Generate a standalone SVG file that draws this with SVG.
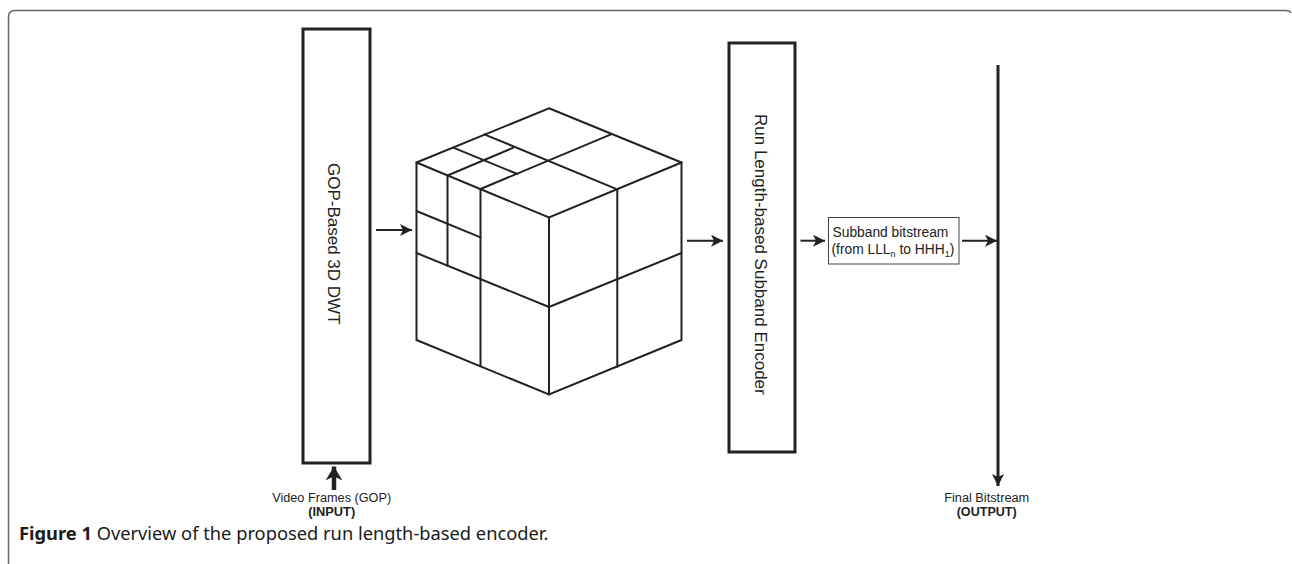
<svg xmlns="http://www.w3.org/2000/svg" width="1292" height="564" viewBox="0 0 1292 564">
<style>
.box{fill:#fff;stroke:#222;stroke-width:3}
.cube line,.cube path{stroke:#222;stroke-width:2;fill:none;stroke-linecap:round}
.lbl{font-family:"Liberation Sans",Arial,sans-serif;fill:#222}
.conn{stroke:#222;fill:none}
</style>
<defs>
<marker id="ah" markerUnits="userSpaceOnUse" markerWidth="12" markerHeight="12" refX="10" refY="5" orient="auto" viewBox="0 0 10 10">
<path d="M0,0 L10,5 L0,10 L2.5,5 z" fill="#222"/>
</marker>
<marker id="ahBig" markerUnits="userSpaceOnUse" markerWidth="12" markerHeight="12" refX="10" refY="5" orient="auto" viewBox="0 0 10 10">
<path d="M0,0 L10,5 L0,10 L2.5,5 z" fill="#222"/>
</marker>
<marker id="ahIn" markerUnits="userSpaceOnUse" markerWidth="14" markerHeight="17" refX="10" refY="6" orient="auto" viewBox="0 0 10 12">
<path d="M0,0 L10,6 L0,12 L3,6 z" fill="#222"/>
</marker>
</defs>
<rect width="1292" height="564" fill="#fff"/>
<path d="M8.5 564 V17 Q8.5 10.5 15 10.5 H1286 Q1290 10.5 1291 13" fill="none" stroke="#666" stroke-width="1.5"/>

<g id="gop-dwt">
<rect class="box" x="303" y="29" width="67" height="434"/>
<text class="lbl" font-size="17" transform="translate(328,163) rotate(90)">GOP-Based 3D DWT</text>
</g>

<g id="cube" class="cube">
<path d="M549 108.3 L681.5 162.5 L681.5 340 L549 394.5 L416.5 340 L416.5 162.5 Z"/>
<path d="M416.5 162.5 L549 217.5 L681.5 162.5 M549 217.5 V394.5"/>
<line x1="484.3" y1="134.3" x2="617.3" y2="189.3"/>
<line x1="611" y1="134.3" x2="480.5" y2="189"/>
<line x1="453.3" y1="147.7" x2="517.3" y2="174"/>
<line x1="447.5" y1="175.5" x2="513" y2="147.8"/>
<line x1="416.5" y1="253" x2="549" y2="307"/>
<line x1="549" y1="307" x2="681.5" y2="253"/>
<line x1="480.5" y1="189" x2="480.5" y2="366"/>
<line x1="447.5" y1="175.5" x2="447.5" y2="265.7"/>
<line x1="416.5" y1="211" x2="480.5" y2="237.3"/>
<line x1="617.3" y1="189.3" x2="617.3" y2="366.7"/>
</g>

<g id="rl-encoder">
<rect class="box" x="729" y="43" width="66" height="409"/>
<text class="lbl" font-size="17" transform="translate(755,114) rotate(90)">Run Length-based Subband Encoder</text>
</g>

<g id="subband">
<rect x="828.5" y="217.5" width="130.5" height="46.5" fill="#fff" stroke="#444" stroke-width="1"/>
<text class="lbl" font-size="13.8" x="832.5" y="236.5">Subband bitstream</text>
<text class="lbl" font-size="13.8" x="831.5" y="254">(from LLL<tspan font-size="9" dy="3">n</tspan><tspan dy="-3"> to HHH</tspan><tspan font-size="9" dy="3">1</tspan><tspan dy="-3">)</tspan></text>
</g>

<g id="input-label">
<text class="lbl" font-size="12" x="331.7" y="501.7" text-anchor="middle" textLength="119" lengthAdjust="spacingAndGlyphs">Video Frames (GOP)</text>
<text class="lbl" font-size="12" font-weight="bold" x="331.7" y="516" text-anchor="middle" textLength="47" lengthAdjust="spacingAndGlyphs">(INPUT)</text>
</g>

<g id="output-label">
<text class="lbl" font-size="12" x="986.7" y="501.7" text-anchor="middle" textLength="85" lengthAdjust="spacingAndGlyphs">Final Bitstream</text>
<text class="lbl" font-size="12" font-weight="bold" x="986.7" y="516" text-anchor="middle" textLength="60" lengthAdjust="spacingAndGlyphs">(OUTPUT)</text>
</g>

<g id="connectors">
<line class="conn" stroke-width="2" x1="376" y1="230" x2="412" y2="230" marker-end="url(#ah)"/>
<line class="conn" stroke-width="2" x1="687" y1="240.7" x2="723" y2="240.7" marker-end="url(#ah)"/>
<line class="conn" stroke-width="2" x1="800.5" y1="240.7" x2="825" y2="240.7" marker-end="url(#ah)"/>
<line class="conn" stroke-width="2" x1="962" y1="240.7" x2="997" y2="240.7" marker-end="url(#ah)"/>
<line class="conn" stroke-width="3" x1="998" y1="65" x2="998" y2="486" marker-end="url(#ahBig)"/>
<line class="conn" stroke-width="4.5" x1="334" y1="490" x2="334" y2="466.5" marker-end="url(#ahIn)"/>
</g>

<text x="19" y="540" font-family="'Noto Sans','Open Sans',sans-serif" font-size="18.3" fill="#1a1a1a"><tspan font-weight="bold">Figure 1</tspan> Overview of the proposed run length-based encoder.</text>
</svg>
